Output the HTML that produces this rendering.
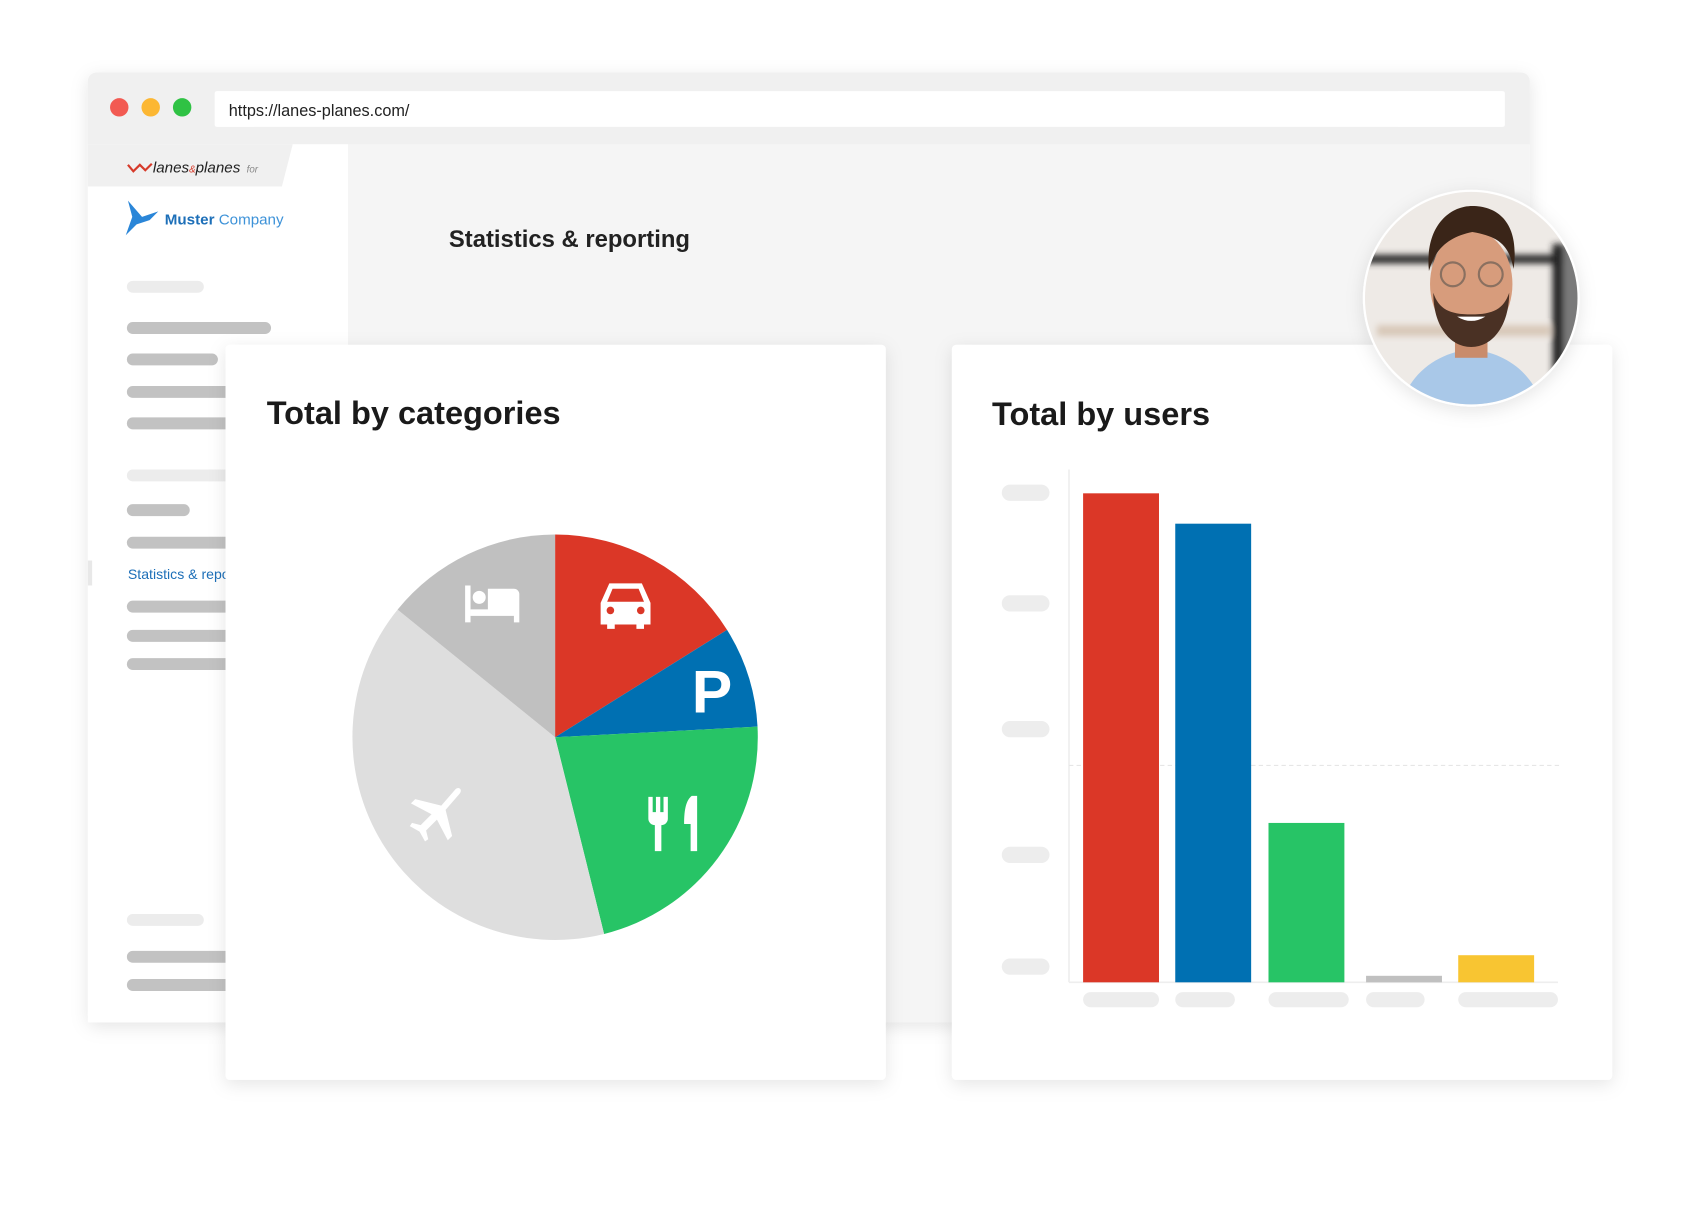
<!DOCTYPE html>
<html><head><meta charset="utf-8"><style>
html,body{margin:0;padding:0;background:#fff;}
svg{display:block;}
text{font-family:"Liberation Sans",Arial,sans-serif;}
</style></head><body>
<svg width="1700" height="1210" viewBox="0 0 1568 1116" preserveAspectRatio="none" xmlns="http://www.w3.org/2000/svg">
<defs>
<filter id="sh" x="-10%" y="-10%" width="120%" height="120%"><feDropShadow dx="0" dy="4" stdDeviation="8" flood-color="#000" flood-opacity="0.10"/></filter>
<filter id="bl"><feGaussianBlur stdDeviation="3"/></filter>
<clipPath id="av"><circle cx="1357" cy="275" r="98"/></clipPath>
</defs>

<g filter="url(#sh)"><rect x="81" y="67" width="1330" height="876" rx="8" fill="#f5f5f5"/></g>
<path d="M89 67 H1403 a8 8 0 0 1 8 8 V133 H81 V75 a8 8 0 0 1 8-8z" fill="#f0f0f0"/>
<circle cx="110" cy="99" r="8.5" fill="#f25a52"/>
<circle cx="139" cy="99" r="8.5" fill="#fcb733"/>
<circle cx="168" cy="99" r="8.5" fill="#2fc244"/>
<rect x="198" y="84" width="1190" height="33" rx="2" fill="#fff"/>
<text x="211" y="107" font-size="15" fill="#222">https://lanes-planes.com/</text>

<rect x="81" y="133" width="240" height="810" fill="#fff"/>
<path d="M81 133 H270 L260 172 H81z" fill="#f0f0f0"/>
<path d="M118 152 l5 6 l6-6 l5 5 l6-6" fill="none" stroke="#d63a2a" stroke-width="2"/>
<text x="141" y="159" font-size="14" font-style="italic" fill="#222">lanes<tspan font-size="9" fill="#d63a2a">&amp;</tspan>planes <tspan font-size="9" fill="#888" dx="2">for</tspan></text>
<path d="M118 185 L131 200 L146 195 L138 203 L126 207 L116 217 L122 200z" fill="#2a86d8"/>
<text x="152" y="207" font-size="14" font-weight="bold" fill="#1d6fb8">Muster <tspan font-weight="normal" fill="#3d92d8">Company</tspan></text>

<g fill="#c2c2c2">
<rect x="117" y="259" width="71" height="11" rx="5.5" fill="#ececec"/>
<rect x="117" y="297" width="133" height="11" rx="5.5"/>
<rect x="117" y="326" width="84" height="11" rx="5.5"/>
<rect x="117" y="356" width="110" height="11" rx="5.5"/>
<rect x="117" y="385" width="110" height="11" rx="5.5"/>
<rect x="117" y="433" width="110" height="11" rx="5.5" fill="#ececec"/>
<rect x="117" y="465" width="58" height="11" rx="5.5"/>
<rect x="117" y="495" width="110" height="11" rx="5.5"/>
<rect x="117" y="554" width="110" height="11" rx="5.5"/>
<rect x="117" y="581" width="110" height="11" rx="5.5"/>
<rect x="117" y="607" width="110" height="11" rx="5.5"/>
<rect x="117" y="843" width="71" height="11" rx="5.5" fill="#ececec"/>
<rect x="117" y="877" width="110" height="11" rx="5.5"/>
<rect x="117" y="903" width="110" height="11" rx="5.5"/>
</g>
<rect x="81" y="517" width="4" height="23" fill="#e8e8e8"/>
<text x="118" y="534" font-size="13" fill="#1d6fb8">Statistics &amp; reporting</text>

<text x="414" y="228" font-size="22" font-weight="bold" fill="#222">Statistics &amp; reporting</text>

<g filter="url(#sh)"><rect x="208" y="318" width="609" height="678" rx="4" fill="#fff"/></g>
<text x="246" y="391" font-size="30" font-weight="bold" fill="#1a1a1a">Total by categories</text>
<g>
<path d="M512 680 L512 493 A187 187 0 0 1 670.6 580.9z" fill="#db3727"/>
<path d="M512 680 L670.6 580.9 A187 187 0 0 1 698.7 670.2z" fill="#0070b2"/>
<path d="M512 680 L698.7 670.2 A187 187 0 0 1 557.2 861.4z" fill="#27c466"/>
<path d="M512 680 L557.2 861.4 A187 187 0 0 1 366.7 562.3z" fill="#dedede"/>
<path d="M512 680 L366.7 562.3 A187 187 0 0 1 512 493z" fill="#c0c0c0"/>
</g>
<g fill="#fff">
<rect x="429" y="540" width="5" height="34"/>
<circle cx="442" cy="551" r="6"/>
<path d="M450 543 h24 a5 5 0 0 1 5 5 v26 h-5 v-6 h-40 v-6 h16z"/>
</g>
<g fill="#fff">
<path d="M562 538 h30 l8 18 v20 h-6 v4 h-7 v-4 h-20 v4 h-7 v-4 h-6 v-20z"/>
<path d="M565 543 h24 l5 12 h-34z" fill="#db3727"/>
<circle cx="563" cy="563" r="3.5" fill="#db3727"/>
<circle cx="591" cy="563" r="3.5" fill="#db3727"/>
</g>
<text x="638" y="657" font-size="56" font-weight="bold" fill="#fff">P</text>
<g fill="#fff">
<path d="M598 735 h4 v14 h3 v-14 h4 v14 h3 v-14 h4 v20 a6 6 0 0 1 -6 6 v24 h-6 v-24 a6 6 0 0 1 -6 -6z"/>
<path d="M638 734 h5 v51 h-6 v-25 h-6 c0-14 2-22 7-26z"/>
</g>
<path d="M420 728 c3-3 7 0 4 4 l-13 15 l6 24 l-4 4 l-10-19 l-10 10 l2 8 l-3 2 l-5-9 l-9-5 l2-3 l8 2 l10-10 l-19-10 l4-4 l24 6z" fill="#fff"/>

<g filter="url(#sh)"><rect x="878" y="318" width="609" height="678" rx="4" fill="#fff"/></g>
<text x="915" y="392" font-size="30" font-weight="bold" fill="#1a1a1a">Total by users</text>
<line x1="986" y1="433" x2="986" y2="906" stroke="#eee" stroke-width="1.5"/>
<line x1="986" y1="706" x2="1440" y2="706" stroke="#e6e6e6" stroke-width="1" stroke-dasharray="4 3"/>
<line x1="986" y1="906" x2="1437" y2="906" stroke="#eee" stroke-width="1.5"/>
<g fill="#ededed">
<rect x="924" y="447" width="44" height="15" rx="7.5"/>
<rect x="924" y="549" width="44" height="15" rx="7.5"/>
<rect x="924" y="665" width="44" height="15" rx="7.5"/>
<rect x="924" y="781" width="44" height="15" rx="7.5"/>
<rect x="924" y="884" width="44" height="15" rx="7.5"/>
<rect x="999" y="915" width="70" height="14" rx="7"/>
<rect x="1084" y="915" width="55" height="14" rx="7"/>
<rect x="1170" y="915" width="74" height="14" rx="7"/>
<rect x="1260" y="915" width="54" height="14" rx="7"/>
<rect x="1345" y="915" width="92" height="14" rx="7"/>
</g>
<rect x="999" y="455" width="70" height="451" fill="#db3727"/>
<rect x="1084" y="483" width="70" height="423" fill="#0070b2"/>
<rect x="1170" y="759" width="70" height="147" fill="#27c466"/>
<rect x="1260" y="900" width="70" height="6" fill="#c0c0c0"/>
<rect x="1345" y="881" width="70" height="25" fill="#f8c532"/>

<circle cx="1357" cy="275" r="100" fill="#fff" filter="url(#sh)"/>
<g clip-path="url(#av)">
<rect x="1250" y="170" width="220" height="220" fill="#eeeae6"/>
<g filter="url(#bl)">
<rect x="1250" y="235" width="220" height="8" fill="#2a2a2a"/>
<rect x="1432" y="225" width="10" height="160" fill="#222"/>
<rect x="1442" y="225" width="20" height="160" fill="#7a7a7a"/>
<rect x="1270" y="300" width="160" height="10" fill="#d8c8b8"/>
</g>
<path d="M1290 380 c10-40 40-55 67-58 c28 3 57 18 68 58z" fill="#a9c8e8"/>
<rect x="1342" y="300" width="30" height="30" fill="#c98c6c"/>
<ellipse cx="1357" cy="262" rx="38" ry="50" fill="#d79c7c"/>
<path d="M1322 270 c0 30 15 50 35 50 c20 0 35-20 35-50 c-5 15-15 20-35 20 c-20 0-30-5-35-20z" fill="#4a3124"/>
<path d="M1318 250 c-4-40 18-60 40-60 c24 0 44 16 38 58 c-4-22-14-30-38-34 c-20 4-34 14-40 36z" fill="#3a2518"/>
<circle cx="1340" cy="253" r="11" fill="none" stroke="#8a7060" stroke-width="2"/>
<circle cx="1375" cy="253" r="11" fill="none" stroke="#8a7060" stroke-width="2"/>
<path d="M1344 292 q13 8 26 0" fill="#fff"/>
</g>
</svg>
</body></html>
